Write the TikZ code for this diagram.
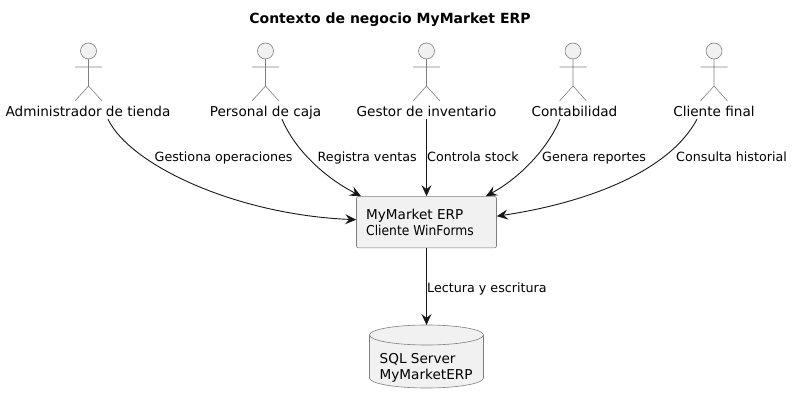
\documentclass[tikz,border=0pt]{standalone}
\usepackage{graphicx}
\usepackage{fontspec}
\setmainfont{DejaVu Sans}
\usetikzlibrary{arrows.meta,shapes.geometric,calc}
\definecolor{fillc}{HTML}{F1F1F1}
\definecolor{linec}{HTML}{7F7F7F}
\definecolor{edgec}{HTML}{181818}
\tikzset{
  x=1pt,y=-1pt,
  lab/.style={font=\fontsize{12.7}{15}\selectfont,inner sep=0pt,anchor=base west,text=black},
  actlab/.style={font=\fontsize{13.6}{16.4}\selectfont,inner sep=0pt,text=black,text height=11pt,text depth=3pt},
  blocktxt/.style={font=\fontsize{13.6}{16.4}\selectfont,inner sep=0pt,text=black,align=left,anchor=north west},
  flow/.style={draw=edgec,line width=0.9pt,-{Stealth[length=11pt,width=10pt,inset=4pt]}},
  sysbox/.style={draw=linec,fill=fillc,line width=0.6pt,rounded corners=2pt,minimum width=140pt,minimum height=51.5pt,inner sep=0pt},
  dbshape/.style={draw=linec,fill=fillc,line width=0.6pt},
  figure/.style={draw=linec,line width=0.6pt},
}
\newcommand{\actorfig}[1]{%
  \draw[figure,fill=fillc] (#1,51) circle[radius=8pt];
  \draw[figure] (#1,59) -- (#1,86) (#1-13.5,67) -- (#1+13.5,67)
     (#1-13.5,101) -- (#1,86) -- (#1+13.5,101);
}
\begin{document}
\begin{tikzpicture}
\useasboundingbox (0,0) rectangle (792,403);
\node[font=\fontsize{14}{16}\selectfont\bfseries,inner sep=0pt] (title) at (390,19.5) {Contexto de negocio MyMarket ERP};
\actorfig{88.5}\actorfig{265.5}\actorfig{426.5}\actorfig{573}\actorfig{714}
\node[actlab] (admin) at (88,112.5) {Administrador de tienda};
\node[actlab] (caja) at (265.5,112.5) {Personal de caja};
\node[actlab] (inv) at (426.5,112.5) {Gestor de inventario};
\node[actlab] (cont) at (574.5,112.5) {Contabilidad};
\node[actlab] (cli) at (714,112.5) {Cliente final};
\node[sysbox] (sys) at (426.5,222.2) {};
\node[blocktxt] (systxt) at (366,208.5) {MyMarket ERP\\\scalebox{0.905}[1]{Cliente WinForms}};
% database
\draw[dbshape] (369.5,335) arc[start angle=180,end angle=0,x radius=57pt,y radius=10pt] -- (483.5,378) arc[start angle=0,end angle=-180,x radius=57pt,y radius=10pt] -- cycle;
\draw[dbshape,fill=none] (369.5,335) arc[start angle=180,end angle=360,x radius=57pt,y radius=10pt];
\coordinate (dbtop) at (426.5,325);
\node[blocktxt] (db) at (379.5,353) {SQL Server\\MyMarketERP};
\draw[flow] ([xshift=20pt,yshift=0.5pt]admin.south) .. controls +(22,46) and +(-120,-5) .. ([yshift=2.5pt]sys.west);
\draw[flow] ([xshift=16.5pt,yshift=0.5pt]caja.south) .. controls +(13,31) and +(-36,-18.5) .. ([xshift=-65.5pt]sys.north);
\draw[flow] ([yshift=0.5pt]inv.south) -- (sys.north);
\draw[flow] ([xshift=-14.5pt,yshift=0.5pt]cont.south) .. controls +(-12,29) and +(34,-18.5) .. ([xshift=59.5pt]sys.north);
\draw[flow] ([xshift=-17pt,yshift=0.5pt]cli.south) .. controls +(-27,51) and +(93.5,-14) .. ([yshift=6pt]sys.east);
\draw[flow] (sys.south) -- (dbtop);
\node[lab] (l1) at (154.5,162) {Gestiona operaciones};
\node[lab] (l2) at (317.5,162) {Registra ventas};
\node[lab] (l3) at (427,162) {Controla stock};
\node[lab] (l4) at (542,162) {Genera reportes};
\node[lab] (l5) at (676,162) {Consulta historial};
\node[lab] (l6) at (427,292) {Lectura y escritura};
\end{tikzpicture}
\end{document}
